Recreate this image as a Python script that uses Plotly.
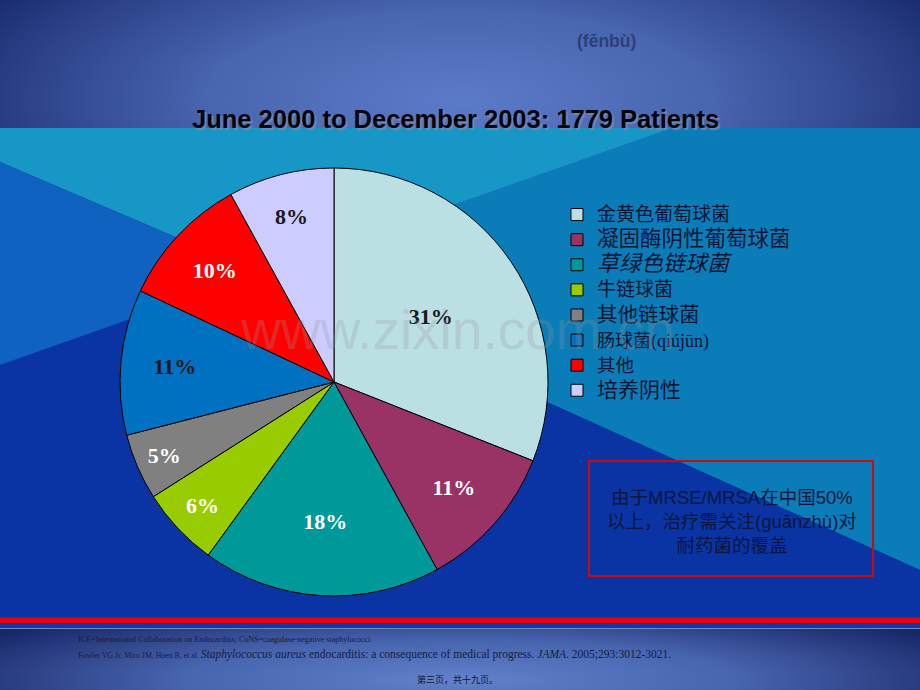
import plotly.graph_objects as go

# ---------------- data ----------------
categories = ["金黄色葡萄球菌", "凝固酶阴性葡萄球菌", "草绿色链球菌", "牛链球菌",
              "其他链球菌", "肠球菌(qiújūn)", "其他", "培养阴性"]
percent_values = [31, 11, 18, 6, 5, 11, 10, 8]
title_text = "June 2000 to December 2003: 1779 Patients"
subtitle_text = "(fēnbù)"
note_lines = ["由于MRSE/MRSA在中国50%", "以上，治疗需关注(guānzhù)对", "耐药菌的覆盖"]
footer_line1 = "ICE=International Collaboration on Endocarditis; CoNS=coagulase-negative staphylococci."
footer_authors = "Fowler VG Jr, Miro JM, Hoen B, et al. "
footer_species = "Staphylococcus aureus"
footer_article = " endocarditis: a consequence of medical progress. "
footer_journal = "JAMA"
footer_cite = ". 2005;293:3012-3021."
page_text = "第三页，共十九页。"
watermark_text = "www.zixin.com.cn"

# ---------------- styles ----------------
slice_colors = ["#BBE0E3", "#993366", "#009999", "#99CC00",
                "#808080", "#0070C0", "#FF0000", "#CCCCFF"]
label_colors = ["#1a1a1a", "white", "white", "white",
                "white", "#1a1a1a", "white", "#1a1a1a"]
legend_sizes = [19, 21.5, 22, 19, 20.5, 18, 18.5, 21]
legend_italic = [False, False, True, False, False, False, False, False]

W, H = 920, 690


def py(y):
    return 1 - y / H


def legend_label(name, size, italic):
    if "(" in name:
        head, tail = name.split("(", 1)
        body = head + '<span style="font-family:Liberation Serif">(' + tail + '</span>'
    else:
        body = name
    if italic:
        body = "<i>" + body + "</i>"
    return '<span style="font-size:%spx">%s</span>' % (size, body)


legend_labels = [legend_label(c, s, it) for c, s, it in zip(categories, legend_sizes, legend_italic)]

fig = go.Figure()


def poly(xs, ys, color=None, grad=None):
    t = dict(x=list(xs) + [xs[0]], y=list(ys) + [ys[0]], mode="lines", fill="toself",
             line=dict(width=0, color="rgba(0,0,0,0)"), hoverinfo="skip", showlegend=False)
    if grad is not None:
        t["fillgradient"] = grad
    else:
        t["fillcolor"] = color
    fig.add_trace(go.Scatter(**t))


# top band (radial gradient, clipped by the plot area)
poly([-100, 1020, 1020, -100], [-100, -100, 300, 300],
     grad=dict(type="radial", colorscale=[[0, "#5c7bc7"], [0.45, "#4865af"],
                                          [0.8, "#2a4086"], [1, "#15276a"]]))
# bottom band
poly([-100, 1020, 1020, -100], [600, 600, 760, 760],
     grad=dict(type="radial", colorscale=[[0, "#6281ca"], [0.5, "#4764ae"],
                                          [0.85, "#26397c"], [1, "#17286a"]]))
# middle fan of regions converging at (260, 273)
P = (260, 273)
poly([P[0], 0, 0, 672], [P[1], 162, 128, 128], color="#1797c5")
poly([P[0], 672, 920, 920], [P[1], 128, 128, 570], color="#0a7cb7")
poly([P[0], 920, 920, 0, 0], [P[1], 570, 618, 618, 365], color="#0a34a3")
poly([P[0], 0, 0], [P[1], 365, 162], color="#1062c0")

# ---------------- pie ----------------
fig.add_trace(go.Pie(
    labels=legend_labels,
    values=percent_values,
    sort=False,
    direction="clockwise",
    rotation=0,
    marker=dict(colors=slice_colors, line=dict(color="#000000", width=1)),
    texttemplate="%{value}%",
    textposition="inside",
    insidetextorientation="horizontal",
    textfont=dict(family="Liberation Serif", size=22, weight="bold", color=label_colors),
    domain=dict(x=[120 / W, 548 / W], y=[py(596), py(168)]),
    hoverinfo="skip",
    showlegend=True,
))

shapes = [
    dict(type="rect", xref="x", yref="y", x0=0, x1=920, y0=617.5, y1=623,
         fillcolor="#e8000c", line=dict(width=0), layer="above"),
    dict(type="rect", xref="x", yref="y", x0=0, x1=920, y0=623, y1=628,
         fillcolor="#0a3ab0", line=dict(width=0), layer="above"),
    dict(type="line", xref="x", yref="y", x0=0, x1=920, y0=628.5, y1=628.5,
         line=dict(color="#7888b0", width=1), layer="above"),
    dict(type="rect", xref="x", yref="y", x0=589, x1=873, y0=461, y1=576,
         fillcolor="rgba(0,0,0,0)", line=dict(color="#cc0a0a", width=2), layer="above"),
]

annotations = [
    dict(text=watermark_text, x=457, y=330, xref="x", yref="y", showarrow=False,
         font=dict(family="Liberation Sans", size=55, color="rgba(150,150,150,0.26)")),
    dict(text=title_text, x=455, y=119, xref="x", yref="y", showarrow=False,
         font=dict(family="Liberation Sans", size=25.5, weight="bold", color="#05050f",
                   shadow="2px 2px 1px rgba(120,135,175,0.9)")),
    dict(text=subtitle_text, x=606, y=41, xref="x", yref="y", showarrow=False,
         font=dict(family="Liberation Sans", size=17.5, weight="bold", color="#2d3f78")),
    dict(text="<br>".join(note_lines), x=732, y=521, xref="x", yref="y", showarrow=False,
         align="center",
         font=dict(family="Liberation Sans, Noto Sans CJK SC", size=18.5, color="#0b1640")),
    dict(text=footer_line1, x=76, y=639, xref="x", yref="y", showarrow=False,
         xanchor="left", align="left",
         font=dict(family="Liberation Serif", size=8, color="#141c40")),
    dict(text='<span style="font-size:7.8px">' + footer_authors + '</span><i>' + footer_species
              + '</i>' + footer_article + '<i>' + footer_journal + '</i>' + footer_cite,
         x=76, y=654, xref="x", yref="y", showarrow=False, xanchor="left", align="left",
         font=dict(family="Liberation Serif", size=11.5, color="#141c40")),
    dict(text=page_text, x=457, y=679, xref="x", yref="y", showarrow=False,
         font=dict(family="Noto Sans CJK SC", size=9, color="#0e1530")),
]

fig.update_layout(
    width=W, height=H,
    margin=dict(l=0, r=0, t=0, b=0),
    paper_bgcolor="#0a34a3",
    plot_bgcolor="rgba(0,0,0,0)",
    xaxis=dict(range=[0, 920], visible=False, fixedrange=True),
    yaxis=dict(range=[690, 0], visible=False, fixedrange=True),
    showlegend=True,
    legend=dict(x=557 / W, y=py(197), xanchor="left", yanchor="top",
                bgcolor="rgba(0,0,0,0)", borderwidth=0,
                font=dict(family="Noto Sans CJK SC", size=17, color="#0a1535")),
    shapes=shapes,
    annotations=annotations,
    hovermode=False,
)

fig.write_html("out.html", config={"displayModeBar": False},
               post_script="document.body.style.margin='0';document.body.style.overflow='hidden';")
